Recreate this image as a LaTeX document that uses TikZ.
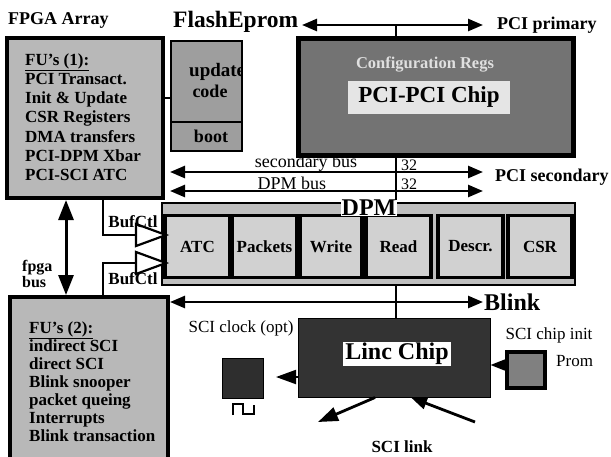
\documentclass[tikz,border=0pt]{standalone}
\usepackage{fontspec}
\setmainfont{Liberation Serif}
\usetikzlibrary{arrows.meta}
\newcommand{\fsz}[2]{\fontsize{#1pt}{#2pt}\selectfont}
\begin{document}
\begin{tikzpicture}[x=1pt,y=-1pt,
  txt/.style={inner sep=0pt, text=black},
  bx/.style={draw=black, inner sep=0pt},
  bus/.style={line width=2.5pt, {Triangle[length=15pt,width=12pt]}-{Triangle[length=15pt,width=12pt]}},
  wire/.style={line width=2.2pt},
  sub/.style={bx, line width=3.5pt, fill=black!18, minimum width=60pt, minimum height=62pt, font=\fsz{17}{19}\bfseries}
]
\useasboundingbox (0,0) rectangle (611,456);
\fill[white] (0,0) rectangle (611,456);

% ---------- titles ----------
\node[txt, anchor=west, font=\fsz{18}{20}\bfseries] (tfpga) at (8,20) {FPGA Array};
\node[txt, anchor=west, font=\fsz{23.5}{25}\bfseries] (tflash) at (173,22) {FlashEprom};

% ---------- FPGA box 1 ----------
\node[bx, line width=4pt, fill=black!28, minimum width=156pt, minimum height=160pt] (f1) at (85,118) {};
\node[txt, anchor=north west, align=left, font=\fsz{17}{19.3}\bfseries] (f1t) at (25,53)
  {\underline{FU's (1):}\\PCI Transact.\\Init \& Update\\CSR Registers\\DMA transfers\\PCI-DPM Xbar\\PCI-SCI ATC};

% ---------- Flash box ----------
\node[bx, line width=2.5pt, fill=black!38, minimum width=71pt, minimum height=110pt] (fl) at (206.5,96) {};
\coordinate (fldivw) at (171,122);
\coordinate (fldive) at (242,122);
\draw[line width=2.5pt] (fldivw) -- (fldive);
\begin{scope}
  \clip (172,42) rectangle (240,121);
  \node[txt, anchor=west, font=\fsz{19}{20}\bfseries] (upd) at (189,72) {update};
\end{scope}
\node[txt, font=\fsz{18}{19}\bfseries] (code) at (210,91) {code};
\node[txt, font=\fsz{18}{19}\bfseries] (boot) at (211,136) {boot};
\draw[wire] (f1.east |- 0,98) -- (fl.west |- 0,98);

% ---------- PCI primary ----------
\coordinate (pp1) at (302,25);
\coordinate (pp2) at (483,25);
\draw[bus] (pp1) -- (pp2);
\node[txt, anchor=west, font=\fsz{18}{20}\bfseries] (tpp) at (497,25) {PCI primary};

% ---------- PCI-PCI chip ----------
\node[bx, line width=5pt, fill=black!55, minimum width=275pt, minimum height=117pt] (pci) at (435.5,96.5) {};
\node[txt, text=black!12, font=\fsz{16.5}{18}\bfseries] (cfg) at (425,65) {Configuration Regs};
\node[txt, fill=black!10, minimum width=162pt, minimum height=33pt, font=\fsz{23}{25}\bfseries] (pcit) at (429,97) {PCI-PCI Chip};
\draw[wire] (pci.north -| 396,0) -- (396,25);

% ---------- secondary bus / DPM bus ----------
\coordinate (sb1) at (170,172);
\coordinate (sb2) at (483,172);
\coordinate (db1) at (170,191);
\coordinate (db2) at (483,191);
\draw[bus] (sb1) -- (sb2);
\draw[bus] (db1) -- (db2);
\node[txt, font=\fsz{18}{20}] (tsb) at (306,163) {secondary bus};
\node[txt, font=\fsz{18}{20}] (tdb) at (292,183) {DPM bus};
\node[txt, font=\fsz{16}{18}] (n32a) at (409,165) {32};
\node[txt, font=\fsz{16}{18}] (n32b) at (409,184) {32};
\node[txt, anchor=west, font=\fsz{18}{20}\bfseries] (tps) at (495,177) {PCI secondary};

% ---------- DPM ----------
\node[bx, line width=1.5pt, fill=black!25, minimum width=413pt, minimum height=82pt] (dpm) at (368.5,244) {};
\draw[wire] (pci.south -| 396,0) -- (dpm.north -| 396,0);
\node[sub, minimum width=65pt] (atc) at (197.5,246.5) {ATC};
\node[sub, minimum width=65pt] (pkt) at (264.5,246.5) {Packets};
\node[sub, minimum width=62pt] (wrt) at (331,246.5) {Write};
\node[sub, minimum width=65pt] (rd) at (398.5,246.5) {Read};
\node[sub, minimum width=65pt] (dsc) at (470.5,246.5) {Descr.};
\node[sub, minimum width=64pt] (csr) at (540,246.5) {CSR};
\node[txt, fill=white, inner xsep=1pt, inner ysep=0pt, font=\fsz{24}{26}\bfseries] (tdpm) at (369,208) {DPM};

% ---------- buffers ----------
\coordinate (b1) at (136,235);
\coordinate (b2) at (136,263);
\draw[line width=2.2pt, fill=white, line join=miter] (136,224) -- (166,235) -- (136,246) -- cycle;
\draw[line width=2.2pt, fill=white, line join=miter] (136,252) -- (166,263) -- (136,274) -- cycle;
\node[txt, font=\fsz{17}{19}\bfseries] (bc1) at (133,222) {BufCtl};
\node[txt, font=\fsz{17}{19}\bfseries] (bc2) at (133,279) {BufCtl};

% ---------- FPGA box 2 ----------
\node[bx, line width=4pt, fill=black!28, minimum width=158pt, minimum height=170pt] (f2) at (89,382) {};
\begin{scope}
  \clip (12,299) rectangle (166,456);
  \node[txt, anchor=north west, align=left, font=\fsz{17}{18}\bfseries] (f2t) at (29,321)
    {\underline{FU's (2):}\\indirect SCI\\direct SCI\\Blink snooper\\packet queing\\Interrupts\\Blink transaction};
\end{scope}

\draw[wire] (f1.south -| 103,0) |- (b1);
\draw[wire] (f2.north -| 103,0) |- (b2);

% fpga bus
\draw[line width=3pt, {Triangle[length=20pt,width=15pt]}-{Triangle[length=20pt,width=15pt]}] (f1.south -| 66,0) -- (f2.north -| 66,0);
\node[txt, anchor=north west, align=left, font=\fsz{16}{13.5}\bfseries] (tfb) at (22,260) {fpga\\bus};

% ---------- Blink ----------
\coordinate (bl1) at (170,302);
\coordinate (bl2) at (483,302);
\draw[bus] (bl1) -- (bl2);
\node[txt, anchor=west, font=\fsz{24}{26}\bfseries] (tbl) at (484,302) {Blink};

% ---------- Linc chip ----------
\node[bx, line width=1pt, fill=black!80, minimum width=192pt, minimum height=79pt] (linc) at (394,357.5) {};
\draw[wire] (dpm.south -| 396,0) -- (linc.north -| 396,0);
\node[txt, fill=white, inner xsep=2pt, inner ysep=1pt, font=\fsz{24}{26}\bfseries] (lt) at (397,354) {Linc Chip};

% SCI clock
\node[txt, font=\fsz{17}{19}] (tclk) at (241,328) {SCI clock (opt)};
\node[bx, line width=0.5pt, fill=black!82, minimum width=41pt, minimum height=40pt] (clk) at (242.5,378) {};
\coordinate (clkarr) at (276,377);
\draw[line width=2pt, -{Triangle[length=20pt,width=14pt]}] (linc.west |- 0,377) -- (clkarr);
\draw[line width=2pt] (233,415) -- (233,404) -- (243,404) -- (243,414) -- (254,414) -- (254,405);

% Prom
\node[bx, line width=4pt, fill=black!50, minimum width=38pt, minimum height=36pt] (prom) at (526,370) {};
\draw[line width=2pt, -{Triangle[length=16pt,width=12pt]}] (prom.west |- 0,365) -- (linc.east |- 0,365);
\node[txt, font=\fsz{17}{19}] (tsci) at (549,335) {SCI chip init};
\node[txt, anchor=west, font=\fsz{17}{19}] (tprom) at (556,361) {Prom};

% SCI link
\coordinate (sl1) at (318,422);
\coordinate (sl2) at (475,422);
\draw[line width=2.8pt, -{Triangle[length=20pt,width=14pt]}] (linc.south -| 375,0) -- (sl1);
\draw[line width=2.8pt, -{Triangle[length=16pt,width=12pt]}] (sl2) -- (linc.south -| 411,0);
\node[txt, font=\fsz{17}{19}\bfseries] (tsl) at (402,447) {SCI link};
\end{tikzpicture}
\end{document}
